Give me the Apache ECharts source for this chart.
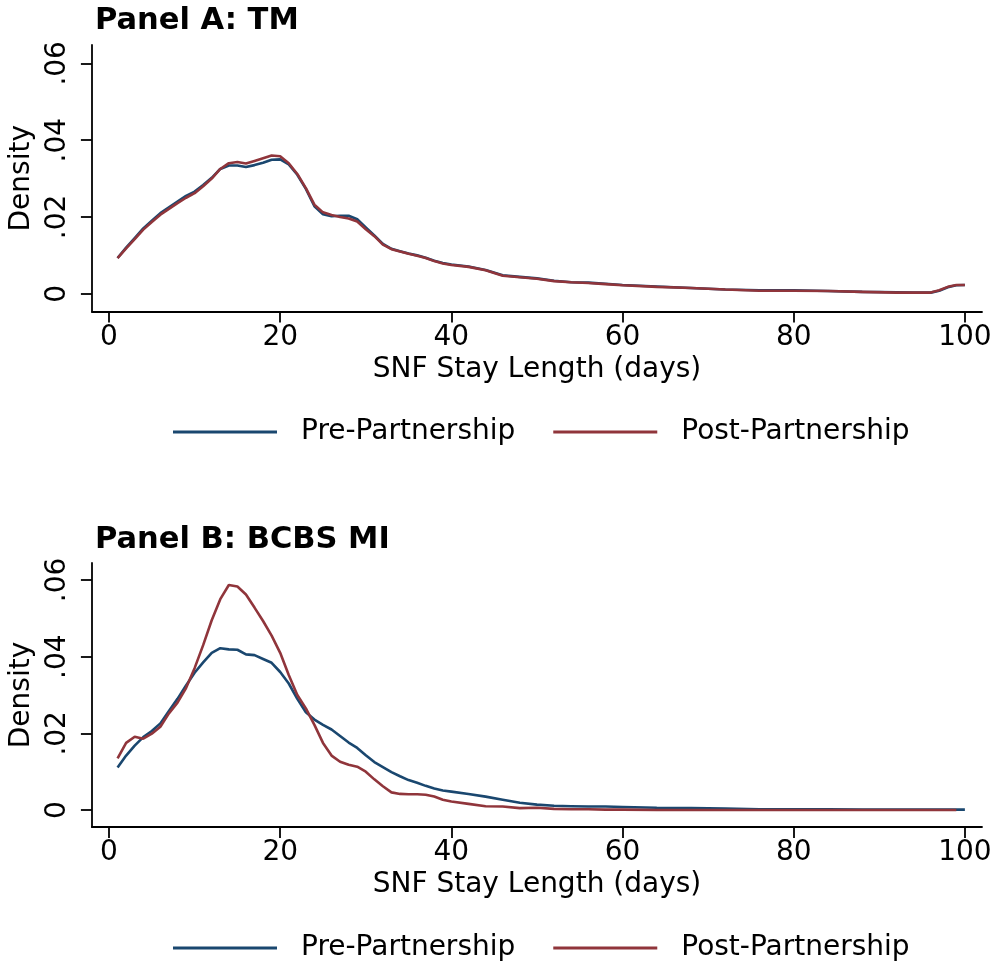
<!DOCTYPE html>
<html>
<head>
<meta charset="utf-8">
<script src="https://cdn.jsdelivr.net/npm/echarts@6/dist/echarts.min.js"></script>
<style>
html,body{margin:0;padding:0;background:#fff;}
#chart{width:995px;height:963px;}
</style>
</head>
<body>
<div id="chart"></div>
<script>
// ---- Data ----
const days = [1,2,3,4,5,6,7,8,9,10,11,12,13,14,15,16,17,18,19,20,
  21,22,23,24,25,26,27,28,29,30,31,32,33,34,35,36,37,38,39,40,
  42,44,46,48,50,52,54,56,58,60,64,68,72,76,80,84,88,92,94,96,97,98,99,100];

const xTicks = [0, 20, 40, 60, 80, 100];
const yTicks = [0, 0.02, 0.04, 0.06];

const preA = [.0093,.0120,.0145,.0170,.0190,.0210,.0225,.0240,.0255,.0266,.0283,.0302,.0325,.0334,.0334,.0330,.0335,.0341,.0349,.0350,
  .0337,.0310,.0273,.0228,.0207,.0202,.0203,.0203,.0194,.0173,.0152,.0130,.0117,.0111,.0105,.0100,.0094,.0086,.0080,.0076,
  .0071,.0062,.0048,.0044,.0040,.0034,.0030,.0029,.0026,.0023,.0019,.0015,.0011,.0009,.0009,.0007,.0005,.0004,.0003,.0003,.0008,.0017,.0022,.0023];

const postA = [.0093,.0118,.0142,.0167,.0187,.0206,.0221,.0236,.0250,.0262,.0280,.0300,.0325,.0340,.0343,.0339,.0346,.0353,.0360,.0358,
  .0340,.0312,.0275,.0232,.0212,.0205,.0200,.0196,.0188,.0168,.0150,.0128,.0116,.0110,.0104,.0099,.0093,.0085,.0079,.0075,
  .0070,.0061,.0047,.0043,.0039,.0033,.0030,.0028,.0025,.0022,.0018,.0015,.0011,.0008,.0008,.0007,.0005,.0003,.0003,.0003,.0009,.0018,.0023,.0023];

const preB = [.0111,.0142,.0168,.0190,.0206,.0226,.0258,.0290,.0325,.0358,.0385,.0410,.0422,.0419,.0418,.0406,.0404,.0394,.0384,.0360,
  .0330,.0290,.0255,.0236,.0222,.0210,.0193,.0176,.0162,.0143,.0125,.0112,.0099,.0088,.0078,.0071,.0063,.0056,.0051,.0048,
  .0042,.0035,.0027,.0019,.0014,.0011,.0010,.0009,.0009,.0008,.0006,.0005,.0004,.0002,.0002,.0002,.0001,.0001,.0001,.0001,.0001,.0001,.0001,.0001];

const postB = [.0135,.0175,.0191,.0186,.0199,.0217,.0252,.0280,.0318,.0370,.0430,.0495,.0550,.0587,.0583,.0562,.0528,.0493,.0455,.0410,
  .0352,.0300,.0265,.0222,.0175,.0142,.0126,.0118,.0113,.0100,.0080,.0062,.0046,.0042,.0041,.0041,.0040,.0035,.0027,.0022,
  .0016,.0010,.0009,.0005,.0006,.0003,.0002,.0002,.0001,.0001,.0000,.0000,.0000,.0000,.0000,.0000,.0000,.0000,.0000,.0000,.0000,.0000,.0000,null];

const seriesNames = ['Pre-Partnership', 'Post-Partnership'];
const panelTitles = ['Panel A: TM', 'Panel B: BCBS MI'];
const xTitle = 'SNF Stay Length (days)';
const yTitle = 'Density';

// ---- Chart ----
const FONT = 'DejaVu Sans';
const BLUE = '#1a476f', RED = '#90353b';
const pairs = (xs, ys) => xs.map((x, i) => [x, ys[i]]);

function xAxis(gridIndex) {
  return {
    type: 'value', gridIndex, min: -2, max: 102,
    name: xTitle, nameLocation: 'middle', nameGap: 44,
    nameTextStyle: {fontFamily: FONT, fontSize: 28, color: '#000'},
    axisLine: {show: true, onZero: false, lineStyle: {color: '#000', width: 1.8}},
    axisTick: {show: true, length: 11, lineStyle: {color: '#000', width: 1.8}, customValues: xTicks},
    axisLabel: {fontFamily: FONT, fontSize: 28, color: '#000', margin: 12, customValues: xTicks},
    splitLine: {show: false}
  };
}
function yAxis(gridIndex, min, max) {
  return {
    type: 'value', gridIndex, min, max,
    name: yTitle, nameLocation: 'middle', nameGap: 54, nameRotate: 90,
    nameTextStyle: {fontFamily: FONT, fontSize: 28, color: '#000'},
    axisLine: {show: true, onZero: false, lineStyle: {color: '#000', width: 1.8}},
    axisTick: {show: true, length: 11, lineStyle: {color: '#000', width: 1.8}, customValues: yTicks},
    axisLabel: {fontFamily: FONT, fontSize: 28, color: '#000', margin: 20, rotate: 90,
      customValues: yTicks,
      formatter: v => v === 0 ? '0' : v.toFixed(2).replace(/^0/, '')},
    splitLine: {show: false}
  };
}
function line(name, xi, data, color) {
  return {
    type: 'line', name, xAxisIndex: xi, yAxisIndex: xi, data,
    symbol: 'none', showSymbol: false, smooth: false,
    lineStyle: {color, width: 2.6}, itemStyle: {color},
    animation: false, connectNulls: false
  };
}
function legend(top) {
  return {
    left: 173, top, padding: 0, itemWidth: 104, itemHeight: 3, itemGap: 38, icon: 'rect',
    data: seriesNames,
    textStyle: {fontFamily: FONT, fontSize: 28, color: '#000', padding: [0, 0, 0, 19]},
    selectedMode: false
  };
}

const chart = echarts.init(document.getElementById('chart'), null, {renderer: 'canvas'});
chart.setOption({
  backgroundColor: '#fff',
  animation: false,
  title: [
    {text: panelTitles[0], left: 90, top: 1, textStyle: {fontFamily: FONT, fontSize: 30.5, fontWeight: 'bold', color: '#000'}},
    {text: panelTitles[1], left: 90, top: 520, textStyle: {fontFamily: FONT, fontSize: 30.5, fontWeight: 'bold', color: '#000'}}
  ],
  legend: [legend(418), legend(934)],
  grid: [
    {left: 88, top: 45, width: 894, height: 266.5},
    {left: 88, top: 563, width: 894, height: 264}
  ],
  xAxis: [xAxis(0), xAxis(1)],
  yAxis: [yAxis(0, -0.00462, 0.06478), yAxis(1, -0.00443, 0.06443)],
  series: [
    line(seriesNames[0], 0, pairs(days, preA), BLUE),
    line(seriesNames[1], 0, pairs(days, postA), RED),
    line(seriesNames[0], 1, pairs(days, preB), BLUE),
    line(seriesNames[1], 1, pairs(days, postB), RED)
  ]
});
</script>
</body>
</html>
